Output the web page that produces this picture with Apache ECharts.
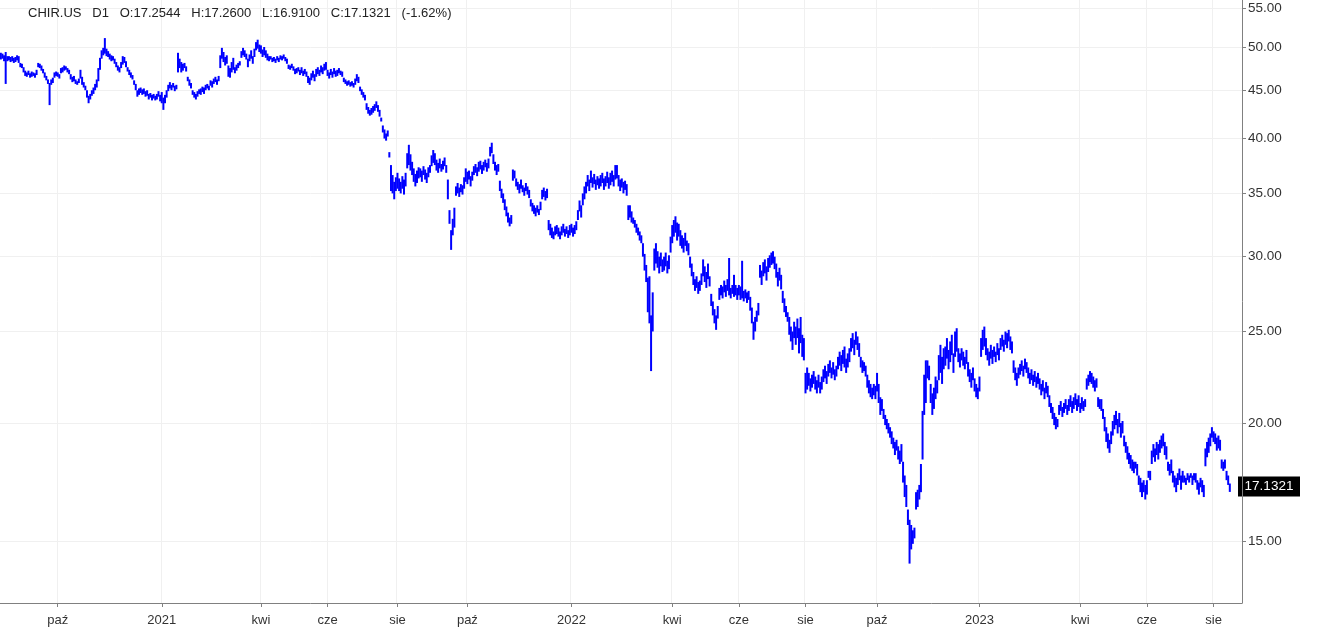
<!DOCTYPE html>
<html>
<head>
<meta charset="utf-8">
<script src="https://cdn.jsdelivr.net/npm/echarts@6/dist/echarts.min.js"></script>
<style>
html,body{margin:0;padding:0;background:#fff;}
#chart{width:1326px;height:634px;}
</style>
</head>
<body>
<div id="chart"></div>
<script>
// ---- Data (daily low / high) ----
const firstDay = '2020-08-12';
const lo2020 = [48.5,48.6,48.3,45.7,48.3,48.4,48.2,48.3,48.1,48.2,
48.4,48.1,47.6,47.5,47.0,46.6,46.5,46.7,46.4,46.5,
46.6,46.4,46.7,47.6,47.5,47.2,46.9,46.4,46.1,45.7,
43.4,45.6,45.8,46.4,46.6,46.5,46.3,46.9,47.0,47.2,
47.3,47.0,46.8,46.2,45.9,46.0,45.7,45.6,45.8,46.3,
45.6,45.3,45.0,44.2,43.6,44.0,44.4,44.6,45.0,45.3,
46.0,47.3,48.6,49.0,49.2,48.9,48.8,48.5,48.3,48.4,
48.0,47.6,47.2,47.0,47.5,47.9,48.1,47.6,47.1,46.7,
46.4,46.2,45.6,45.0,44.3,44.5,44.7,44.5,44.6,44.3,
44.4,44.0,44.2,43.9,44.1,43.9,44.0,44.3,43.8];
const hi2020 = [49.3,49.2,49.0,49.4,48.9,48.9,48.8,48.9,48.7,48.8,
49.0,48.9,48.1,48.0,47.6,47.2,47.0,47.2,46.9,47.1,
47.0,46.9,47.3,48.1,48.0,47.8,47.4,47.0,46.6,46.2,
45.8,46.2,46.4,47.0,47.1,47.0,46.8,47.5,47.6,47.8,
47.7,47.5,47.3,46.8,46.5,46.6,46.2,46.0,46.3,47.3,
46.5,45.9,45.5,45.0,44.4,44.6,45.0,45.3,45.7,46.2,
47.5,48.7,49.6,49.9,51.1,49.8,49.5,49.2,49.0,48.9,
48.6,48.2,47.8,47.6,48.2,48.9,48.8,48.3,47.6,47.3,
47.0,46.7,46.1,45.7,45.0,45.2,45.3,45.1,45.2,44.9,
45.0,44.6,44.7,44.5,44.6,44.4,44.6,44.9,44.5];
const lo2021 = [43.6,42.9,43.6,44.2,44.9,45.2,45.0,45.3,44.9,45.1,
47.0,47.5,47.0,47.2,47.5,47.1,46.0,45.5,45.2,44.5,
44.2,44.0,44.3,44.6,44.5,44.8,44.6,45.0,45.2,45.0,
45.5,45.3,45.7,45.9,45.6,46.0,47.5,48.6,48.2,47.8,
48.0,46.5,46.4,47.0,47.3,46.9,47.2,47.5,47.8,48.7,
49.0,48.8,48.5,47.6,48.3,48.6,48.0,48.8,49.6,49.8,
49.4,49.2,48.8,49.0,48.7,48.4,48.3,48.5,48.2,48.3,
48.1,48.4,48.2,48.5,48.4,48.6,48.3,48.0,47.4,47.3,
47.5,47.2,46.8,46.9,47.1,46.7,46.9,46.6,46.8,46.5,
45.8,45.6,46.1,46.4,46.0,46.5,46.8,46.6,47.0,46.8,
47.2,47.3,46.6,46.3,46.7,46.4,46.8,46.5,46.6,46.9,
46.7,46.5,45.9,45.7,45.5,45.6,45.4,45.5,45.3,45.6,
46.0,45.8,44.9,44.5,44.2,43.9,42.9,42.5,42.3,42.4,
42.6,42.8,43.1,42.7,42.2,41.7,40.6,40.0,39.8,40.2,
38.2,35.2,35.0,34.5,35.2,35.4,35.2,35.0,35.4,34.9,
35.6,37.2,37.5,37.0,36.6,36.0,35.6,35.9,36.3,36.4,
36.0,36.6,36.2,35.9,36.4,36.8,37.4,37.7,37.5,37.0,
36.8,37.2,36.9,37.1,37.4,36.8,34.5,32.5,30.5,31.6,
32.2,34.8,35.0,34.7,35.1,34.9,35.4,36.0,35.8,36.2,
35.6,36.1,36.6,36.8,36.5,36.9,37.1,36.7,37.0,37.3,
36.9,37.2,38.3,38.6,37.6,37.0,36.6,36.9,35.2,34.6,
34.2,33.6,33.1,32.6,32.3,32.5,36.1,36.3,35.6,35.3,
35.0,35.4,35.1,34.8,35.2,34.9,34.6,33.9,33.5,33.3,
33.1,33.4,33.2,33.6,34.5,34.7,34.4,34.6,32.0,31.6,
31.4,31.3,31.6,31.7,31.5,31.3,31.6,31.8,31.5,31.7,
31.4,31.6];
const hi2021 = [44.8,44.2,44.5,45.0,45.6,45.9,45.6,45.8,45.5,45.6,
49.3,48.6,48.2,48.0,48.1,47.7,46.5,46.2,45.8,45.0,
44.8,44.6,44.9,45.1,45.2,45.4,45.3,45.6,45.7,45.5,
46.1,46.0,46.3,46.5,46.2,46.6,49.0,49.9,49.4,48.8,
49.0,47.8,47.5,48.2,48.7,47.6,47.9,48.1,48.3,49.5,
49.9,49.6,49.2,48.6,49.1,49.6,48.9,49.8,50.6,50.9,
50.3,50.2,49.7,50.0,49.6,49.2,48.9,48.9,48.7,48.8,
48.6,48.9,48.7,49.0,48.9,49.1,48.8,48.6,47.9,47.8,
48.0,47.7,47.4,47.5,47.6,47.3,47.6,47.2,47.4,47.1,
46.6,46.4,46.9,47.2,46.8,47.4,47.6,47.3,47.8,47.6,
48.0,48.2,47.3,47.0,47.4,47.1,47.5,47.2,47.3,47.5,
47.2,47.1,46.4,46.2,46.0,46.1,45.9,46.0,45.8,46.3,
46.8,46.5,45.4,45.1,44.8,44.5,43.6,43.2,42.9,43.1,
43.3,43.5,43.8,43.4,42.9,42.1,41.3,40.9,40.5,40.8,
38.7,37.5,36.6,36.0,36.4,36.8,36.3,36.0,36.5,36.2,
36.8,38.6,39.4,38.5,37.8,37.2,36.7,37.0,37.3,37.2,
37.0,37.4,37.1,36.8,37.3,37.5,38.4,38.9,38.6,38.0,
37.7,38.1,37.6,37.9,38.2,37.5,36.2,33.6,32.0,32.9,
33.8,35.6,35.9,35.5,35.8,35.7,36.4,37.2,36.9,37.0,
36.5,36.9,37.4,37.6,37.3,37.8,37.9,37.5,37.8,38.0,
37.7,38.1,39.2,39.6,38.5,37.8,37.5,37.6,36.1,35.4,
35.0,34.5,33.9,33.4,33.0,33.2,37.1,37.0,36.3,36.0,
35.8,36.2,35.7,35.5,35.9,35.6,35.3,34.5,34.2,34.0,
33.8,34.0,33.7,34.3,35.3,35.5,35.2,35.4,32.8,32.5,
32.2,31.9,32.3,32.4,32.2,31.9,32.3,32.5,32.1,32.3,
32.0,32.4];
const lo2022 = [31.8,31.5,31.7,32.0,32.8,33.5,33.0,34.0,34.5,35.0,
35.6,35.2,35.9,35.5,35.8,35.3,35.7,35.4,35.6,35.9,
35.3,35.6,35.9,35.4,35.7,36.0,35.6,36.2,36.3,35.6,
35.2,35.5,35.0,35.3,34.8,32.8,33.0,32.6,32.5,32.2,
31.8,31.6,31.2,31.0,30.0,29.0,28.2,26.2,25.5,22.7,
25.0,29.0,29.5,29.2,28.8,29.3,28.9,29.0,29.3,28.8,
29.1,30.3,31.0,31.5,31.8,31.2,31.5,30.8,30.6,30.3,
30.8,30.4,30.1,29.2,28.6,28.0,27.6,27.8,27.4,27.6,
28.0,28.6,28.2,27.8,28.4,27.9,26.6,26.0,25.5,25.1,
25.8,27.0,27.3,27.1,27.5,27.2,27.6,27.3,27.1,27.4,
27.2,27.3,27.0,27.3,27.0,27.1,26.9,27.1,26.8,27.0,
26.3,25.5,24.5,25.0,25.6,26.0,28.5,28.0,28.6,28.8,
28.3,28.9,29.2,29.4,29.5,29.1,28.5,27.9,28.3,27.7,
26.8,26.2,25.9,25.6,24.8,24.4,23.9,24.6,24.2,24.6,
23.7,24.3,23.5,23.3,21.5,21.7,21.9,21.6,21.8,22.0,
21.7,21.5,21.8,21.5,21.7,22.1,22.3,22.0,22.4,22.6,
22.3,22.5,22.2,22.4,22.8,23.0,22.7,23.1,22.9,22.6,
22.9,23.2,23.8,24.0,23.6,24.2,23.9,23.5,22.9,22.6,
22.7,22.4,21.8,21.5,21.3,21.2,21.4,21.2,21.6,21.0,
20.4,20.6,20.2,19.9,19.7,19.5,19.3,19.0,18.8,18.5,
18.7,18.3,18.1,18.2,17.3,16.7,16.3,15.6,14.2,14.7,
14.9,15.1,16.2,16.3,16.6,16.9,18.3,20.4,21.0,22.3,
22.2,21.0,20.4,20.7,21.2,21.5,22.2,22.6,22.0,22.8,
23.0,23.4,22.8,23.2,23.6,22.6,23.5,23.8,23.2,22.9,
23.3,23.0,22.8,23.1,22.4,22.1,21.8,22.2,21.6,21.3,
21.2];
const hi2022 = [32.5,32.2,32.4,32.7,33.6,34.4,34.0,35.0,35.6,36.0,
36.6,36.2,37.0,36.4,36.7,36.2,36.5,36.3,36.6,36.8,
36.3,36.5,36.9,36.4,36.8,37.0,36.6,37.5,37.5,36.6,
36.2,36.3,36.0,36.1,35.8,34.0,34.0,33.5,33.0,32.8,
32.5,32.2,31.9,31.6,31.0,30.2,29.4,28.5,28.6,26.0,
27.5,30.6,31.0,30.4,30.0,30.3,29.8,30.0,30.3,29.7,
30.1,31.5,32.4,32.8,33.1,32.6,32.5,32.0,31.6,31.4,
31.8,31.2,31.0,30.0,29.5,28.9,28.4,28.6,28.2,28.3,
28.8,29.8,29.3,28.9,29.5,28.6,27.4,26.9,26.4,26.0,
26.6,27.8,28.0,27.9,28.3,28.0,28.4,29.9,27.8,28.0,
28.7,28.0,27.8,28.0,27.9,29.7,27.6,27.7,27.5,27.6,
27.2,26.5,25.6,25.9,26.3,26.8,29.4,29.0,29.6,29.8,
29.3,29.9,30.1,30.3,30.4,30.0,29.5,28.9,29.2,28.7,
27.6,27.1,26.6,26.2,25.9,25.3,25.0,25.6,25.3,25.8,
25.2,25.9,24.8,24.6,22.6,22.9,22.6,22.3,22.5,22.7,
22.4,22.2,22.5,22.1,22.4,22.8,23.0,22.7,23.1,23.3,
22.9,23.2,22.8,23.0,23.5,23.8,23.6,23.9,24.1,23.4,
23.7,24.0,24.6,24.9,24.5,25.0,24.7,24.3,23.5,23.3,
23.2,23.0,22.5,22.2,22.0,21.8,22.0,21.9,22.6,22.0,
21.3,21.2,20.7,20.4,20.2,20.0,19.8,19.6,19.3,19.1,
19.2,18.9,18.7,19.0,18.2,17.6,17.2,16.2,15.8,15.6,
15.4,15.5,16.9,17.0,17.2,18.1,20.6,22.5,23.3,23.3,
23.0,22.0,21.5,21.8,22.4,22.2,23.6,24.2,23.5,24.0,
24.1,24.6,23.9,24.4,24.8,23.7,25.0,25.2,24.0,23.7,
24.0,23.8,23.5,23.9,23.2,22.8,22.6,22.9,22.3,22.0,
21.8];
const lo2023 = [21.6,23.5,23.9,24.1,23.6,23.3,23.0,23.4,23.1,23.5,
23.2,23.6,23.3,23.9,24.1,23.8,24.2,24.0,24.4,23.9,
23.7,22.6,22.2,21.9,22.3,22.5,22.7,22.4,22.8,22.6,
22.3,22.0,22.2,21.9,22.1,21.8,22.0,21.7,21.4,21.6,
21.2,21.5,21.3,20.8,20.5,20.2,19.9,19.7,19.8,20.4,
20.6,20.3,20.5,20.7,20.4,20.6,20.8,20.5,20.7,20.9,
20.6,20.8,20.5,20.7,20.6,20.8,21.7,21.9,22.1,22.0,
21.8,21.6,21.8,20.8,20.7,20.6,20.2,19.6,19.1,18.8,
18.6,19.0,19.4,19.7,19.9,19.5,19.8,19.3,19.5,18.9,
18.6,18.3,18.1,17.9,17.8,17.7,17.9,17.6,17.2,16.9,
16.7,16.9,16.6,16.8,17.5,17.4,18.1,18.4,18.2,18.5,
18.3,18.6,18.8,18.9,18.5,18.3,17.8,17.6,17.7,17.3,
17.1,16.9,17.2,17.4,17.0,17.3,17.3,17.2,17.4,17.3,
17.5,17.2,17.4,17.3,17.0,16.8,17.1,16.9,16.7,18.0,
18.4,18.6,18.9,19.3,19.1,19.0,18.7,18.8,18.7,17.9,
17.8,17.9,17.4,17.2,16.91];
const hi2023 = [22.4,24.6,25.1,25.3,24.6,24.0,23.8,24.2,23.9,24.1,
23.8,24.3,24.0,24.6,24.8,24.5,25.0,24.9,25.1,24.7,
24.4,23.3,22.9,22.6,22.9,23.1,23.3,23.0,23.4,23.2,
22.9,22.6,22.8,22.5,22.7,22.4,22.6,22.3,22.0,22.2,
21.8,22.1,21.9,21.4,21.0,20.8,20.5,20.3,20.2,20.9,
21.1,20.8,21.0,21.2,20.9,21.2,21.4,21.1,21.3,21.5,
21.2,21.4,21.0,21.3,21.1,21.2,22.3,22.5,22.7,22.6,
22.4,22.2,22.3,21.3,21.2,21.2,20.7,20.3,19.8,19.5,
19.2,19.6,20.1,20.4,20.6,20.2,20.5,20.0,20.1,19.4,
19.1,18.9,18.6,18.5,18.3,18.2,18.2,18.1,17.6,17.5,
17.3,17.4,17.2,17.4,17.8,17.8,18.7,19.0,18.8,19.1,
19.0,19.2,19.4,19.5,19.1,18.9,18.2,18.1,18.3,17.8,
17.6,17.5,17.7,17.9,17.6,17.8,17.6,17.5,17.7,17.6,
17.7,17.6,17.7,17.7,17.4,17.3,17.5,17.4,17.2,18.8,
19.1,19.3,19.5,19.8,19.6,19.5,19.3,19.4,19.2,18.3,
18.2,18.3,17.8,17.6,17.26];
const lastClose = 17.1321;
const headerText = 'CHIR.US   D1   O:17.2544   H:17.2600   L:16.9100   C:17.1321   (-1.62%)';
const yTickValues = [15, 20, 25, 30, 35, 40, 45, 50, 55];
const monthLabels = {3: 'kwi', 5: 'cze', 7: 'sie', 9: 'paź'};
const holidays = ['2020-09-07','2020-11-26','2020-12-25','2021-01-01','2021-01-18','2021-02-15','2021-04-02','2021-05-31','2021-07-05','2021-09-06','2021-11-25','2021-12-24','2022-01-17','2022-02-21','2022-04-15','2022-05-30','2022-06-20','2022-07-04','2022-09-05','2022-11-24','2022-12-26','2023-01-02','2023-01-16','2023-02-20','2023-04-07','2023-05-29','2023-06-19','2023-07-04','2023-09-04'];
const padDays = 7;

// ---- Build series ----
const lows = lo2020.concat(lo2021, lo2022, lo2023);
const highs = hi2020.concat(hi2021, hi2022, hi2023);
const hol = new Set(holidays);
const dates = [];
let d = new Date(firstDay + 'T00:00:00Z');
while (dates.length < lows.length + padDays) {
  const wd = d.getUTCDay();
  const s = d.toISOString().slice(0, 10);
  if (wd !== 0 && wd !== 6 && !hol.has(s)) dates.push(s);
  d = new Date(d.getTime() + 86400000);
}
const labelAt = {};
for (let i = 1; i < dates.length; i++) {
  const m = +dates[i].slice(5, 7) - 1, pm = +dates[i - 1].slice(5, 7) - 1;
  if (m !== pm) {
    if (m === 0) labelAt[i] = dates[i].slice(0, 4);
    else if (monthLabels[m]) labelAt[i] = monthLabels[m];
  }
}
const showIdx = (idx) => labelAt[idx] !== undefined;
const barData = lows.map((l, i) => [i, l, highs[i]]);

const chart = echarts.init(document.getElementById('chart'), null, {renderer: 'canvas'});
const FONT = '"Liberation Sans", Arial, sans-serif';
chart.setOption({
  animation: false,
  backgroundColor: '#ffffff',
  title: {
    text: headerText, left: 23, top: 2,
    textStyle: {fontSize: 13, fontWeight: 'normal', color: '#222', fontFamily: FONT}
  },
  grid: {left: 0, right: 84, top: 0, bottom: 31, containLabel: false},
  xAxis: {
    type: 'category', data: dates, boundaryGap: true,
    axisLine: {show: true, lineStyle: {color: '#808080', width: 1}},
    axisTick: {show: true, alignWithLabel: true, length: 4, interval: showIdx, lineStyle: {color: '#808080'}},
    axisLabel: {interval: showIdx, formatter: (v, idx) => labelAt[idx] || '', color: '#333', fontSize: 13, fontFamily: FONT, margin: 11},
    splitLine: {show: true, interval: showIdx, lineStyle: {color: '#f0f0f0'}}
  },
  yAxis: {
    type: 'log', position: 'right', min: 12.9, max: 56.07, logBase: 10,
    axisLine: {show: true, lineStyle: {color: '#808080'}},
    axisTick: {show: true, length: 4, customValues: yTickValues, lineStyle: {color: '#808080'}},
    axisLabel: {customValues: yTickValues, formatter: (v) => Number(v).toFixed(2), color: '#333', fontSize: 13.5, fontFamily: FONT, margin: 6},
    splitLine: {show: true, lineStyle: {color: '#f0f0f0'}}
  },
  series: [{
    type: 'custom',
    encode: {x: 0, y: [1, 2]},
    data: barData,
    clip: true,
    renderItem: function (params, api) {
      const i = api.value(0);
      const top = api.coord([i, api.value(2)]);
      const bot = api.coord([i, api.value(1)]);
      return {
        type: 'rect',
        shape: {x: top[0] - 1, y: top[1], width: 2, height: Math.max(bot[1] - top[1], 1.5)},
        style: {fill: '#0000ff'}
      };
    }
  }]
});

// last-price tag on the price axis, placed through the axis scale
const py = chart.convertToPixel({yAxisIndex: 0}, lastClose);
const gridRight = 1326 - 84;
chart.setOption({
  graphic: [{
    type: 'group', z: 100,
    children: [
      {type: 'rect', shape: {x: gridRight - 4, y: py - 10, width: 62, height: 20}, style: {fill: '#000'}},
      {type: 'text', x: gridRight + 27, y: py, style: {text: lastClose.toFixed(4), fill: '#fff', font: '13.5px "Liberation Sans", Arial, sans-serif', align: 'center', verticalAlign: 'middle'}}
    ]
  }]
});
</script>
</body>
</html>
